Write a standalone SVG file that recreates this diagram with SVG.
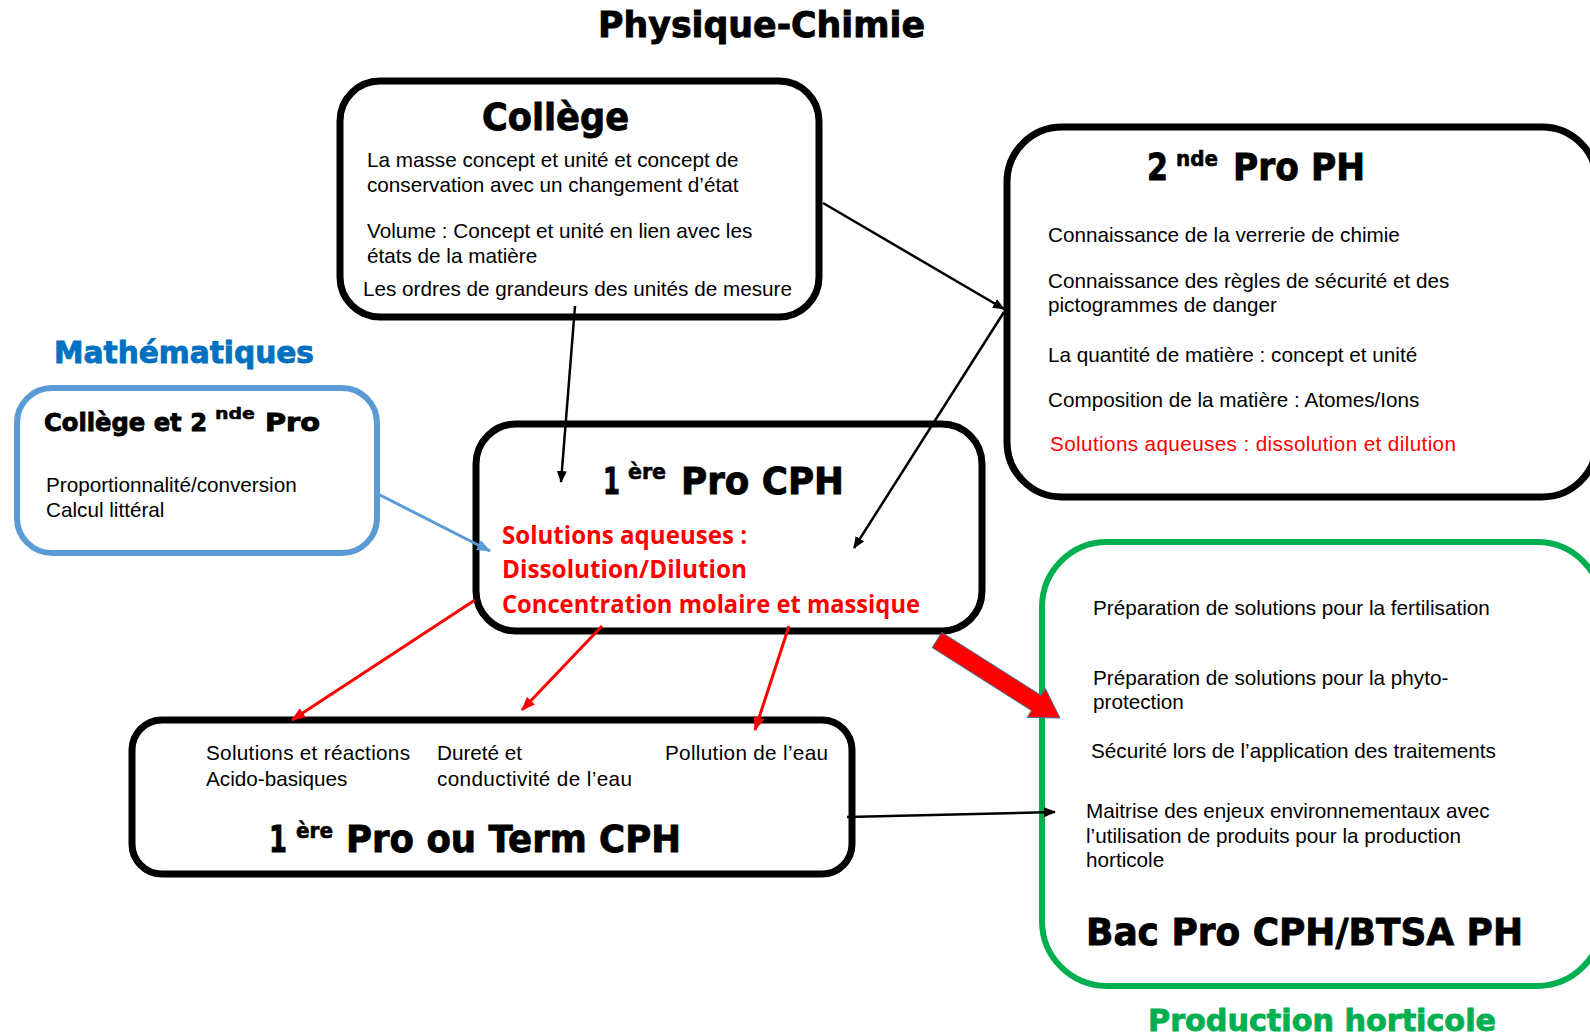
<svg xmlns="http://www.w3.org/2000/svg" width="1590" height="1035" viewBox="0 0 1590 1035">
<style>
.hd{font-family:"DejaVu Sans","Liberation Sans",sans-serif;font-weight:bold;fill:#000;stroke:#000;stroke-width:0.9}
.tx{font-family:"Liberation Sans",Arial,sans-serif;font-size:20.7px;fill:#000}
.rd{fill:#FF0000}
.cb{font-family:"Open Sans","Liberation Sans",sans-serif;font-weight:bold;font-size:25px;fill:#FF0000}
.box{fill:#fff;stroke:#000;stroke-width:7}
.ln{fill:none;stroke:#000;stroke-width:2.5}
.lr{fill:none;stroke:#FF0000;stroke-width:3}
.lb{fill:none;stroke:#5B9BD5;stroke-width:3}
</style>
<defs>
<marker id="ak" viewBox="0 0 12 10" refX="11" refY="5" markerWidth="12" markerHeight="10" orient="auto" markerUnits="userSpaceOnUse"><path d="M0,0 L12,5 L0,10 z" fill="#000"/></marker>
<marker id="ar" viewBox="0 0 14 11" refX="13" refY="5.5" markerWidth="14" markerHeight="11" orient="auto" markerUnits="userSpaceOnUse"><path d="M0,0 L14,5.5 L0,11 z" fill="#FF0000"/></marker>
<marker id="ab" viewBox="0 0 14 11" refX="13" refY="5.5" markerWidth="14" markerHeight="11" orient="auto" markerUnits="userSpaceOnUse"><path d="M0,0 L14,5.5 L0,11 z" fill="#5B9BD5"/></marker>
</defs>
<rect width="1590" height="1035" fill="#fff"/>

<text class="hd" x="598" y="37" font-size="36" textLength="327" lengthAdjust="spacingAndGlyphs">Physique-Chimie</text>
<text class="hd" x="54" y="363" font-size="30" style="fill:#0070C0;stroke:#0070C0" textLength="260" lengthAdjust="spacingAndGlyphs">Mathématiques</text>
<text class="hd" x="1148" y="1031" font-size="30" style="fill:#00B050;stroke:#00B050" textLength="348" lengthAdjust="spacingAndGlyphs">Production horticole</text>

<g id="college">
<rect class="box" x="340" y="81" width="479" height="236" rx="40"/>
<text class="hd" x="482" y="130" font-size="38" textLength="147" lengthAdjust="spacingAndGlyphs">Collège</text>
<text class="tx" x="367" y="167">La masse concept et unité et concept de</text>
<text class="tx" x="367" y="192">conservation avec un changement d’état</text>
<text class="tx" x="367" y="238">Volume : Concept et unité en lien avec les</text>
<text class="tx" x="367" y="263">états de la matière</text>
<text class="tx" x="363" y="296">Les ordres de grandeurs des unités de mesure</text>
</g>

<g id="seconde">
<rect class="box" x="1007" y="127" width="590" height="370" rx="55"/>
<text class="hd" font-size="38"><tspan x="1147" y="180" textLength="21" lengthAdjust="spacingAndGlyphs">2</tspan><tspan x="1176" y="166" font-size="21" stroke-width="0.6" textLength="42" lengthAdjust="spacingAndGlyphs">nde</tspan><tspan x="1233" y="180" textLength="132" lengthAdjust="spacingAndGlyphs">Pro PH</tspan></text>
<text class="tx" x="1048" y="242">Connaissance de la verrerie de chimie</text>
<text class="tx" x="1048" y="288">Connaissance des règles de sécurité et des</text>
<text class="tx" x="1048" y="312">pictogrammes de danger</text>
<text class="tx" x="1048" y="362">La quantité de matière : concept et unité</text>
<text class="tx" x="1048" y="407">Composition de la matière : Atomes/Ions</text>
<text class="tx rd" x="1050" y="451" textLength="406" lengthAdjust="spacing">Solutions aqueuses : dissolution et dilution</text>
</g>

<g id="maths">
<rect x="17" y="388" width="360" height="165" rx="35" fill="#fff" stroke="#5B9BD5" stroke-width="6"/>
<text class="hd" font-size="25"><tspan x="44" y="431" textLength="163" lengthAdjust="spacingAndGlyphs">Collège et 2</tspan><tspan x="215" y="419" font-size="16" stroke-width="0.5" textLength="40" lengthAdjust="spacingAndGlyphs">nde</tspan><tspan x="265" y="431" textLength="55" lengthAdjust="spacingAndGlyphs">Pro</tspan></text>
<text class="tx" x="46" y="492">Proportionnalité/conversion</text>
<text class="tx" x="46" y="517">Calcul littéral</text>
</g>

<g id="premiere">
<rect class="box" x="476" y="424" width="506" height="207" rx="40"/>
<text class="hd" font-size="38"><tspan x="603" y="494" textLength="17" lengthAdjust="spacingAndGlyphs">1</tspan><tspan x="628" y="479" font-size="21" stroke-width="0.6" textLength="38" lengthAdjust="spacingAndGlyphs">ère</tspan><tspan x="681" y="494" textLength="163" lengthAdjust="spacingAndGlyphs">Pro CPH</tspan></text>
<text class="cb" x="502" y="544" textLength="245" lengthAdjust="spacingAndGlyphs">Solutions aqueuses :</text>
<text class="cb" x="502" y="578" textLength="245" lengthAdjust="spacingAndGlyphs">Dissolution/Dilution</text>
<text class="cb" x="502" y="613" textLength="418" lengthAdjust="spacingAndGlyphs">Concentration molaire et massique</text>
</g>

<g id="term">
<rect class="box" x="132" y="720" width="720" height="154" rx="30"/>
<text class="tx" x="206" y="760" textLength="204" lengthAdjust="spacing">Solutions et réactions</text>
<text class="tx" x="206" y="786">Acido-basiques</text>
<text class="tx" x="437" y="760">Dureté et</text>
<text class="tx" x="437" y="786" textLength="195" lengthAdjust="spacing">conductivité de l’eau</text>
<text class="tx" x="665" y="760" textLength="163" lengthAdjust="spacing">Pollution de l’eau</text>
<text class="hd" font-size="38"><tspan x="269" y="852" textLength="18" lengthAdjust="spacingAndGlyphs">1</tspan><tspan x="296" y="838" font-size="21" stroke-width="0.6" textLength="37" lengthAdjust="spacingAndGlyphs">ère</tspan><tspan x="346" y="852" textLength="335" lengthAdjust="spacingAndGlyphs">Pro ou Term CPH</tspan></text>
</g>

<g id="bac">
<rect x="1042" y="542" width="560" height="444" rx="65" fill="#fff" stroke="#00B050" stroke-width="6"/>
<text class="tx" x="1093" y="615">Préparation de solutions pour la fertilisation</text>
<text class="tx" x="1093" y="685">Préparation de solutions pour la phyto-</text>
<text class="tx" x="1093" y="709">protection</text>
<text class="tx" x="1091" y="758">Sécurité lors de l’application des traitements</text>
<text class="tx" x="1086" y="818">Maitrise des enjeux environnementaux avec</text>
<text class="tx" x="1086" y="843">l’utilisation de produits pour la production</text>
<text class="tx" x="1086" y="867">horticole</text>
<text class="hd" x="1086" y="945" font-size="38" textLength="437" lengthAdjust="spacingAndGlyphs">Bac Pro CPH/BTSA PH</text>
</g>

<g id="connectors">
<line class="ln" x1="823" y1="203" x2="1004" y2="309" marker-end="url(#ak)"/>
<line class="ln" x1="575" y1="306" x2="561" y2="482" marker-end="url(#ak)"/>
<line class="ln" x1="1004" y1="312" x2="854" y2="548" marker-end="url(#ak)"/>
<line class="lb" x1="378" y1="494" x2="490" y2="551" marker-end="url(#ab)"/>
<line class="lr" x1="475" y1="600" x2="292" y2="720" marker-end="url(#ar)"/>
<line class="lr" x1="602" y1="626" x2="522" y2="710" marker-end="url(#ar)"/>
<line class="lr" x1="789" y1="626" x2="755" y2="730" marker-end="url(#ar)"/>
<line class="ln" x1="847" y1="817" x2="1055" y2="812" marker-end="url(#ak)"/>
<path d="M932.2,647.6 L941.8,632.4 L1041.1,695.4 L1045.4,688.6 L1060,718 L1027.2,717.4 L1031.5,710.6 Z" fill="#FF0000" stroke="#41719C" stroke-width="1"/>
</g>
</svg>
